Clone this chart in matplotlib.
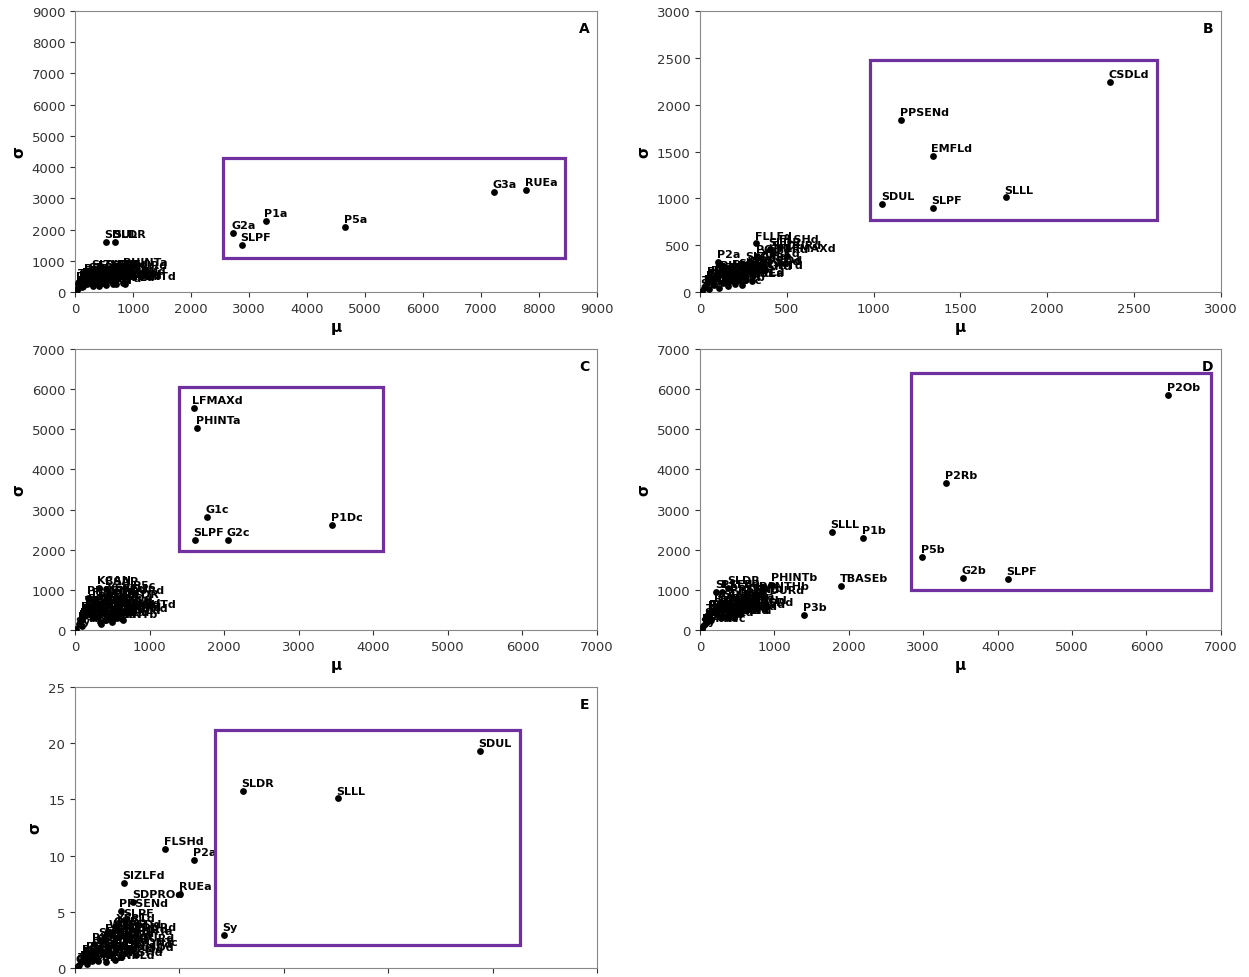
import matplotlib
matplotlib.use("Agg")
import matplotlib.pyplot as plt
from matplotlib.patches import Rectangle

# ---------------- data ----------------
extra_names = ['SFDURd', 'XFRTd', 'WTPSDd', 'SDPDVd', 'FLSDd', 'SDPMd', 'TRIFLd',
               'RWDTHd', 'RHGHTd', 'THRSHd', 'SDNPLd', 'SDLIPd', 'FRLFd', 'SLAd', 'PHTHRd']

# Panel A
a_names = ['G3a', 'RUEa', 'P1a', 'P5a', 'G2a', 'SLPF', 'SDUL', 'SLDR',
           'PHINTa', 'P2a', 'FLSHd', 'SIZLFd', 'SDPROd', 'PPSENd', 'LFMAXd', 'PODURd',
           'SLAVRd', 'FLLFd', 'EMFLd', 'CSDLd', 'P1b', 'P2Ob', 'P2Rb', 'P3b', 'P5b',
           'G2b', 'PHINTb', 'TBASEb', 'P1Dc', 'P5c', 'G1c', 'G2c', 'PHINTc', 'Sy', 'SLLL'] + extra_names
a_mu = [7230, 7780, 3290, 4660, 2720, 2880, 530, 690,
        845, 640, 420, 300, 250, 180, 720, 560,
        480, 380, 150, 820, 650, 300, 200, 110, 90,
        60, 520, 700, 130, 40, 30, 20, 100, 10, 260,
        760, 600, 450, 350, 230, 160, 80, 50, 870, 640, 540, 410, 310, 200, 120]
a_sigma = [3200, 3280, 2280, 2080, 1890, 1510, 1610, 1610,
           700, 540, 610, 640, 560, 520, 430, 380,
           300, 420, 380, 300, 250, 260, 300, 250, 180,
           120, 450, 250, 200, 90, 60, 40, 300, 20, 470,
           600, 650, 500, 330, 380, 450, 350, 250, 250, 320, 220, 200, 180, 250, 150]
a_box = [2550, 1100, 8450, 4300]

# Panel B
b_names = ['CSDLd', 'PPSENd', 'EMFLd', 'SDUL', 'SLPF', 'SLLL',
           'FLLFd', 'P2a', 'FLSHd', 'SLDR', 'LFMAXd', 'PODURd', 'SIZLFd', 'SDPROd',
           'P1a', 'P5a', 'G2a', 'G3a', 'RUEa', 'PHINTa', 'P1b', 'P2Ob', 'P2Rb', 'P5b',
           'G2b', 'PHINTb', 'TBASEb', 'P1Dc', 'G1c', 'G2c', 'P5c', 'Sy', 'PHINTc'] + extra_names
b_mu = [2360, 1160, 1340, 1050, 1340, 1760,
        322, 104, 460, 400, 500, 330, 270, 300,
        220, 180, 150, 260, 300, 120, 90, 60, 40, 200,
        240, 30, 20, 80, 130, 160, 50, 10, 110,
        420, 360, 280, 230, 190, 140, 100, 70, 300, 250, 210, 170, 130, 90, 50]
b_sigma = [2240, 1840, 1450, 940, 900, 1010,
           520, 320, 480, 455, 385, 380, 300, 260,
           200, 180, 160, 150, 120, 200, 140, 120, 100, 90,
           80, 60, 40, 70, 100, 60, 30, 10, 40,
           420, 330, 250, 230, 220, 180, 160, 150, 200, 190, 130, 120, 110, 180, 140]
b_box = [980, 770, 2630, 2480]

# Panel C
c_names = ['LFMAXd', 'PHINTa', 'G1c', 'SLPF', 'G2c', 'P1Dc',
           'KCAN', 'BSAP', 'P5c', 'SLLL', 'SLDR', 'SDUL', 'PPSENd', 'FLSHd', 'P1a',
           'EMFLd', 'CSDLd', 'SIZLFd', 'SDPROd', 'PODURd', 'FLLFd', 'P2a', 'P5a',
           'G2a', 'G3a', 'RUEa', 'P1b', 'P2Ob', 'P5b', 'G2b', 'PHINTb', 'Sy', 'PHINTc'] + extra_names
c_mu = [1590, 1640, 1770, 1610, 2050, 3450,
        320, 420, 800, 650, 700, 430, 180, 250, 330,
        200, 520, 600, 380, 470, 280, 150, 560,
        640, 400, 240, 120, 90, 60, 350, 500, 20, 100,
        550, 450, 350, 300, 250, 200, 150, 100, 680, 600, 500, 420, 330, 230, 70]
c_sigma = [5530, 5030, 2820, 2240, 2250, 2610,
           1050, 1020, 930, 850, 700, 700, 800, 760, 650,
           600, 560, 480, 420, 380, 330, 450, 300,
           250, 250, 300, 350, 250, 150, 150, 200, 30, 100,
           800, 850, 600, 500, 550, 480, 550, 400, 450, 350, 300, 250, 200, 400, 200]
c_box = [1400, 1970, 4130, 6050]

# Panel D
d_names = ['P2Ob', 'P2Rb', 'P5b', 'G2b', 'SLPF', 'SLLL', 'P1b', 'TBASEb', 'P3b',
           'PHINTb', 'PANTHb', 'SLDR', 'PSLFd', 'SLLFd', 'PPSENd', 'SDUL', 'G1c',
           'P1a', 'P2a', 'P5a', 'G2a', 'G3a', 'RUEa', 'PHINTa', 'FLSHd', 'EMFLd',
           'CSDLd', 'SIZLFd', 'P1Dc', 'P5c', 'G2c', 'Sy', 'PHINTc'] + extra_names
d_mu = [6290, 3306, 2984, 3535, 4140, 1774, 2191, 1895, 1398,
        968, 807, 380, 300, 220, 420, 300, 520,
        600, 700, 450, 350, 250, 180, 120, 650, 500,
        400, 280, 150, 90, 60, 20, 40,
        750, 620, 560, 480, 400, 330, 260, 200, 140, 100, 80, 360, 460, 540, 230]
d_sigma = [5854, 3662, 1818, 1295, 1270, 2441, 2292, 1096, 374,
           1120, 900, 1050, 950, 950, 820, 320, 750,
           700, 650, 600, 550, 500, 450, 420, 550, 400,
           350, 300, 250, 200, 150, 30, 100,
           800, 850, 500, 450, 650, 700, 550, 600, 450, 350, 250, 300, 300, 400, 400]
d_box = [2840, 1000, 6870, 6400]

# Panel E
e_names = ['SDUL', 'SLDR', 'SLLL', 'Sy', 'FLSHd', 'P2a', 'RUEa', 'SIZLFd',
           'SDPROd', 'PPSENd', 'SLPF', 'G2Rb', 'P1a', 'PHINTa', 'KCONTc', 'SLPFd',
           'EMFLd', 'CSDLd', 'LFMAXd', 'PODURd', 'FLLFd', 'P5a', 'G2a', 'G3a',
           'P1b', 'P2Ob', 'P5b', 'G2b', 'PHINTb', 'TBASEb', 'P1Dc', 'G1c', 'G2c'] + extra_names
e_mu = [19.4, 8.05, 12.6, 7.14, 4.31, 5.7, 5.03, 2.35,
        2.8, 2.2, 2.4, 1.9, 2.1, 2.6, 2.7, 1.2,
        1.5, 1.8, 1.1, 2.3, 0.9, 1.6, 0.7, 1.3,
        0.5, 1.0, 0.3, 0.8, 0.4, 0.2, 0.6, 0.15, 0.1,
        2.5, 2.0, 1.7, 1.4, 2.9, 2.2, 1.2, 0.9, 0.6, 1.9, 1.5, 2.6, 0.4, 1.1, 2.1]
e_sigma = [19.3, 15.75, 15.1, 2.94, 10.6, 9.6, 6.58, 7.56,
           5.9, 5.1, 4.2, 3.5, 3.4, 2.6, 1.6, 2.5,
           2.9, 2.2, 1.8, 2.0, 1.5, 1.2, 1.0, 1.4,
           0.8, 0.9, 0.5, 0.6, 0.7, 0.3, 0.4, 0.2, 0.1,
           3.0, 3.8, 3.2, 2.4, 1.2, 1.0, 1.9, 2.1, 1.3, 0.7, 0.5, 1.4, 1.0, 0.6, 2.8]
e_box = [6.7, 2.05, 21.3, 21.2]

panels = [
    ('A', a_names, a_mu, a_sigma, a_box, 9000, 1000, [0.060, 0.7004, 0.418, 0.2873]),
    ('B', b_names, b_mu, b_sigma, b_box, 3000, 500, [0.5605, 0.7004, 0.417, 0.2873]),
    ('C', c_names, c_mu, c_sigma, c_box, 7000, 1000, [0.060, 0.3548, 0.418, 0.2873]),
    ('D', d_names, d_mu, d_sigma, d_box, 7000, 1000, [0.5605, 0.3548, 0.417, 0.2873]),
    ('E', e_names, e_mu, e_sigma, e_box, 25, 5, [0.060, 0.0092, 0.418, 0.2873]),
]

fig = plt.figure(figsize=(12.49, 9.78), dpi=100)
purple = '#7030A0'

for letter, names, mu, sig, box, lim, step, rect in panels:
    ax = fig.add_axes(rect)
    ax.scatter(mu, sig, s=24, c='black', zorder=3, linewidths=0)
    for n, x, y in zip(names, mu, sig):
        ax.annotate(n, (x, y), xytext=(-1, 2), textcoords='offset points',
                    fontsize=8, fontweight='bold', ha='left', va='bottom', zorder=4)
    x0, y0, x1, y1 = box
    ax.add_patch(Rectangle((x0, y0), x1 - x0, y1 - y0, fill=False,
                           edgecolor=purple, linewidth=2.3, zorder=5))
    ax.set_xlim(0, lim)
    ax.set_ylim(0, lim)
    ticks = list(range(0, lim + 1, step))
    ax.set_xticks(ticks)
    ax.set_yticks(ticks)
    ax.tick_params(labelsize=9.5, colors='#333333', length=3.5)
    for sp in ax.spines.values():
        sp.set_color('#888888')
        sp.set_linewidth(0.8)
    ax.set_xlabel('μ', fontsize=11, fontweight='bold', labelpad=3)
    ax.set_ylabel('σ', fontsize=11, fontweight='bold', labelpad=4)
    ax.text(0.985, 0.965, letter, transform=ax.transAxes, ha='right', va='top',
            fontsize=10, fontweight='bold')

fig.savefig('out.png', dpi=100)
